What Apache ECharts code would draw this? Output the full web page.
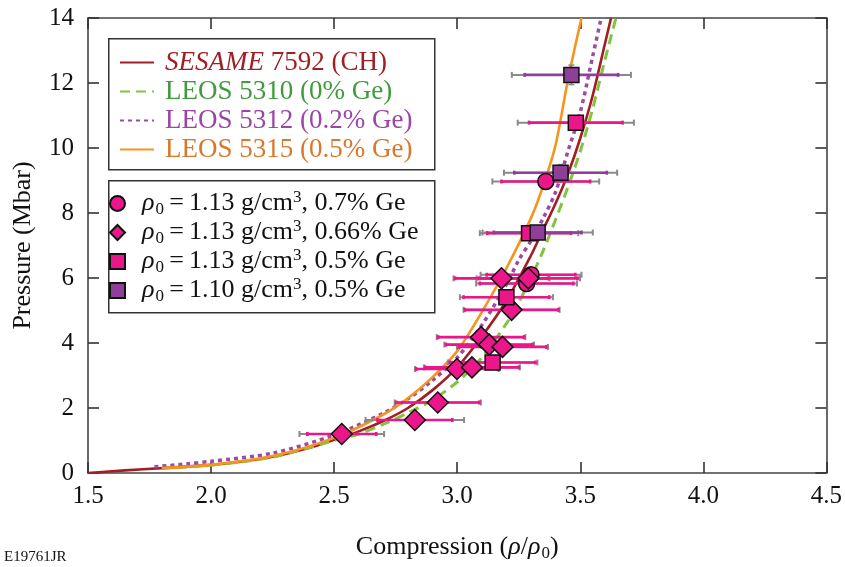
<!DOCTYPE html>
<html><head><meta charset="utf-8">
<script src="https://cdn.jsdelivr.net/npm/echarts@6/dist/echarts.min.js"></script>
<style>html,body{margin:0;padding:0;background:#fff}#c{width:845px;height:567px}</style>
</head><body><div id="c"></div>
<script>
// ---------- model curves (compression, pressure in Mbar) ----------
const sesameX = [1.50,1.65,1.80,2.00,2.10,2.25,2.40,2.50,2.60,2.70,2.80,2.90,3.00,3.10,3.20,3.30,3.35,3.40,3.45,3.50,3.55,3.60,3.625];
const sesameP = [0.00,0.08,0.15,0.25,0.33,0.50,0.78,1.02,1.28,1.60,2.00,2.55,3.25,4.20,5.30,6.70,7.50,8.30,9.20,10.30,11.60,13.20,14.00];
const leos5310X = [1.80,2.00,2.25,2.50,2.60,2.70,2.80,2.90,3.00,3.10,3.20,3.25,3.30,3.35,3.40,3.45,3.50,3.55,3.60,3.645];
const leos5310P = [0.15,0.24,0.49,1.00,1.20,1.50,1.85,2.25,2.80,3.55,4.60,5.25,6.00,6.85,7.80,8.80,9.90,11.20,12.70,14.00];
const leos5312X = [1.77,1.90,2.00,2.25,2.50,2.70,2.80,2.90,3.00,3.10,3.20,3.25,3.30,3.35,3.40,3.45,3.50,3.55,3.585];
const leos5312P = [0.19,0.28,0.36,0.61,1.17,1.84,2.28,2.85,3.55,4.55,5.80,6.55,7.15,7.85,8.65,9.90,11.10,12.80,14.00];
const leos5315X = [1.80,2.00,2.25,2.50,2.70,2.80,2.90,3.00,3.10,3.20,3.30,3.35,3.40,3.45,3.505];
const leos5315P = [0.15,0.25,0.52,1.08,1.80,2.30,2.95,3.75,4.95,6.30,7.85,8.85,10.10,12.10,14.00];
const curveNames = ['SESAME 7592 (CH)','LEOS 5310 (0% Ge)','LEOS 5312 (0.2% Ge)','LEOS 5315 (0.5% Ge)'];

// ---------- experimental data ----------
// rho0 = 1.13, 0.7% Ge (circles)
const circX = [3.360,3.300,3.282];
const circP = [8.97,6.10,5.83];
const circErr = [0.180,0.180,0.190];
const circErrTot = [0.217,0.205,0.205];
// rho0 = 1.13, 0.66% Ge (diamonds)
const diaX = [2.531,2.828,2.921,2.999,3.060,3.097,3.130,3.184,3.221,3.180,3.289];
const diaP = [1.20,1.63,2.17,3.20,3.25,4.18,3.95,3.88,5.02,5.99,5.99];
const diaErr = [0.140,0.152,0.169,0.166,0.190,0.175,0.176,0.178,0.190,0.189,0.200];
const diaErrTot = [0.172,0.200,0.175,0.170,0.195,0.180,0.182,0.185,0.195,0.195,0.210];
// rho0 = 1.13, 0.5% Ge (pink squares)
const sqX = [3.482,3.292,3.200,3.144];
const sqP = [10.78,7.38,5.41,3.40];
const sqErr = [0.190,0.170,0.174,0.174];
const sqErrTot = [0.236,0.200,0.189,0.182];
// rho0 = 1.10, 0.5% Ge (purple squares)
const psqX = [3.464,3.420,3.327];
const psqP = [12.25,9.24,7.40];
const psqErr = [0.190,0.188,0.178];
const psqErrTot = [0.242,0.230,0.224];
const psqPErr = [0.30,0.25,0.20];

const densities = ['1.13','1.13','1.13','1.10'];
const geContent = ['0.7%','0.66%','0.5%','0.5%'];
const markerNames = densities.map((d,i)=>'ρ0 = '+d+' g/cm3, '+geContent[i]+' Ge');

const xTicks = [1.5,2.0,2.5,3.0,3.5,4.0,4.5];
const yTicks = [0,2,4,6,8,10,12,14];

// ---------- styles ----------
const FONT = 'Liberation Serif';
const PINK = '#EA168A';
const PURPLE = '#8E3F98';
const lineColors = ['#A11E24','#82C341','#9B4AA6','#F7941E'];
const legendTextColors = ['#9E1F24','#3F9B3C','#9A46A6','#D9772B'];

function zip(a,b){return a.map((v,i)=>[v,b[i]]);}
function errData(xs,ps,err,yerr){return xs.map((x,i)=>[x,ps[i],x-err[i],x+err[i],yerr?yerr[i]:0]);}

function errRenderer(color,lw,cap){
  return function(params,api){
    const y=api.value(1), x0=api.value(2), x1=api.value(3), ye=api.value(4), x=api.value(0);
    const a=api.coord([x0,y]), b=api.coord([x1,y]);
    const ch=[
      {type:'line',shape:{x1:a[0],y1:a[1],x2:b[0],y2:b[1]},style:{stroke:color,lineWidth:lw}},
      {type:'line',shape:{x1:a[0],y1:a[1]-cap,x2:a[0],y2:a[1]+cap},style:{stroke:color,lineWidth:lw}},
      {type:'line',shape:{x1:b[0],y1:b[1]-cap,x2:b[0],y2:b[1]+cap},style:{stroke:color,lineWidth:lw}}
    ];
    if(ye>0){
      const c=api.coord([x,y-ye]), d=api.coord([x,y+ye]);
      ch.push({type:'line',shape:{x1:c[0],y1:c[1],x2:d[0],y2:d[1]},style:{stroke:color,lineWidth:1.5}});
      ch.push({type:'line',shape:{x1:c[0]-cap,y1:c[1],x2:c[0]+cap,y2:c[1]},style:{stroke:color,lineWidth:1.5}});
      ch.push({type:'line',shape:{x1:d[0]-cap,y1:d[1],x2:d[0]+cap,y2:d[1]},style:{stroke:color,lineWidth:1.5}});
    }
    return {type:'group',children:ch};
  };
}

const chart = echarts.init(document.getElementById('c'),null,{renderer:'canvas'});

const lineSeries = [
  {x:sesameX,p:sesameP,type:'solid',w:2.6},
  {x:leos5310X,p:leos5310P,type:[10,6],w:3},
  {x:leos5312X,p:leos5312P,type:[4,4],w:3.5},
  {x:leos5315X,p:leos5315P,type:'solid',w:2.6}
].map((c,i)=>({
  name:curveNames[i], type:'line', data:zip(c.x,c.p), symbol:'none', smooth:0.3,
  lineStyle:{color:lineColors[i],width:c.w,type:c.type}, itemStyle:{color:'rgba(0,0,0,0)',opacity:0}, z:2, silent:true, animation:false
}));

const groups = [
  {x:circX,p:circP,e:circErr,et:circErrTot,ye:null,color:PINK,symbol:'circle',size:16},
  {x:diaX,p:diaP,e:diaErr,et:diaErrTot,ye:null,color:PINK,symbol:'diamond',size:21},
  {x:sqX,p:sqP,e:sqErr,et:sqErrTot,ye:null,color:PINK,symbol:'rect',size:15},
  {x:psqX,p:psqP,e:psqErr,et:psqErrTot,ye:psqPErr,color:PURPLE,symbol:'rect',size:15}
];

const errSeries=[];
groups.forEach((g,i)=>{
  errSeries.push({type:'custom',name:'errTot'+i,renderItem:errRenderer('#8a8a8a',2,3),data:errData(g.x,g.p,g.et,g.ye),encode:{x:[2,3],y:1},z:3,silent:true,animation:false});
});
groups.forEach((g,i)=>{
  errSeries.push({type:'custom',name:'err'+i,renderItem:errRenderer(g.color,2.6,2),data:errData(g.x,g.p,g.e,null),encode:{x:[2,3],y:1},z:3,silent:true,animation:false});
});
const markerSeries = groups.map((g,i)=>({
  name:markerNames[i], type:'scatter', data:zip(g.x,g.p), symbol:g.symbol, symbolSize:g.size,
  itemStyle:{color:g.color,borderColor:'#111',borderWidth:1.5,opacity:1}, z:5, silent:true, animation:false
}));

const axisCommon = {
  axisLine:{show:true,onZero:false,lineStyle:{color:'#444',width:1.6}},
  axisTick:{show:true,inside:true,length:11,lineStyle:{color:'#333',width:1.6}},
  splitLine:{show:false}
};

const rich2 = {
  r:{fontFamily:FONT,fontStyle:'italic',fontSize:26,color:'#111'},
  sub:{fontFamily:FONT,fontSize:17,color:'#111',padding:[12,0,0,1]},
  t:{fontFamily:FONT,fontSize:26,color:'#111'},
  sup:{fontFamily:FONT,fontSize:17,color:'#111',padding:[0,0,12,0]}
};

const option = {
  backgroundColor:'#fff',
  animation:false,
  grid:{left:88,right:16,top:18,bottom:92,containLabel:false},
  xAxis:[
    Object.assign({},axisCommon,{type:'value',min:1.5,max:4.5,interval:0.5,position:'bottom',
      axisLabel:{margin:11,fontFamily:FONT,fontSize:25,color:'#111',formatter:v=>v.toFixed(1)},
      name:'{t|Compression (}{r|ρ}{t|/}{r|ρ}{sub|0}{t|)}',nameLocation:'middle',nameGap:60,
      nameTextStyle:{rich:rich2}}),
    Object.assign({},axisCommon,{type:'value',min:1.5,max:4.5,interval:0.5,position:'top',axisLabel:{show:false}})
  ],
  yAxis:[
    Object.assign({},axisCommon,{type:'value',min:0,max:14,interval:2,position:'left',
      axisLabel:{margin:14,fontFamily:FONT,fontSize:25,color:'#111'},
      name:'Pressure (Mbar)',nameLocation:'middle',nameGap:52,
      nameTextStyle:{fontFamily:FONT,fontSize:26,color:'#111'}}),
    Object.assign({},axisCommon,{type:'value',min:0,max:14,interval:2,position:'right',axisLabel:{show:false}})
  ],
  legend:[
    {orient:'vertical',left:119,top:49,padding:0,itemGap:2,itemWidth:34,itemHeight:14,z:10,
     data:curveNames, selectedMode:false, itemStyle:{opacity:0,borderWidth:0},
     formatter:name=>{const i=curveNames.indexOf(name); if(i===0) return '{si|SESAME}{s| 7592 (CH)}'; return '{c'+i+'|'+name+'}';},
     textStyle:{fontFamily:FONT,fontSize:27,lineHeight:24,padding:[0,0,0,6],
       rich:{si:{fontFamily:FONT,fontSize:27,fontStyle:'italic',color:legendTextColors[0]},
             s:{fontFamily:FONT,fontSize:27,color:legendTextColors[0]},
             c1:{fontFamily:FONT,fontSize:27,color:legendTextColors[1]},
             c2:{fontFamily:FONT,fontSize:27,color:legendTextColors[2]},
             c3:{fontFamily:FONT,fontSize:27,color:legendTextColors[3]}}}},
    {orient:'vertical',left:109,top:189,padding:0,itemGap:0,itemWidth:15,itemHeight:15,z:10,
     data:markerNames, selectedMode:false,
     formatter:name=>{const i=markerNames.indexOf(name); return '{r|ρ}{sub|0}{t|\u2009=\u2009'+densities[i]+' g/cm}{sup|3}{t|, '+geContent[i]+' Ge}';},
     textStyle:{fontFamily:FONT,fontSize:26,lineHeight:24,padding:[0,0,0,12],rich:rich2}}
  ],
  graphic:[
    {type:'rect',left:108,top:38,shape:{width:326,height:131},style:{fill:'#fff',stroke:'#333',lineWidth:1.5},z:8},
    {type:'rect',left:108,top:180,shape:{width:326,height:132},style:{fill:'#fff',stroke:'#333',lineWidth:1.5},z:8},
    {type:'text',left:4,top:550,style:{text:'E19761JR',fontFamily:FONT,fontSize:15,fill:'#111'},z:8}
  ],
  series:[].concat(lineSeries,errSeries,markerSeries)
};
chart.setOption(option);
</script></body></html>
